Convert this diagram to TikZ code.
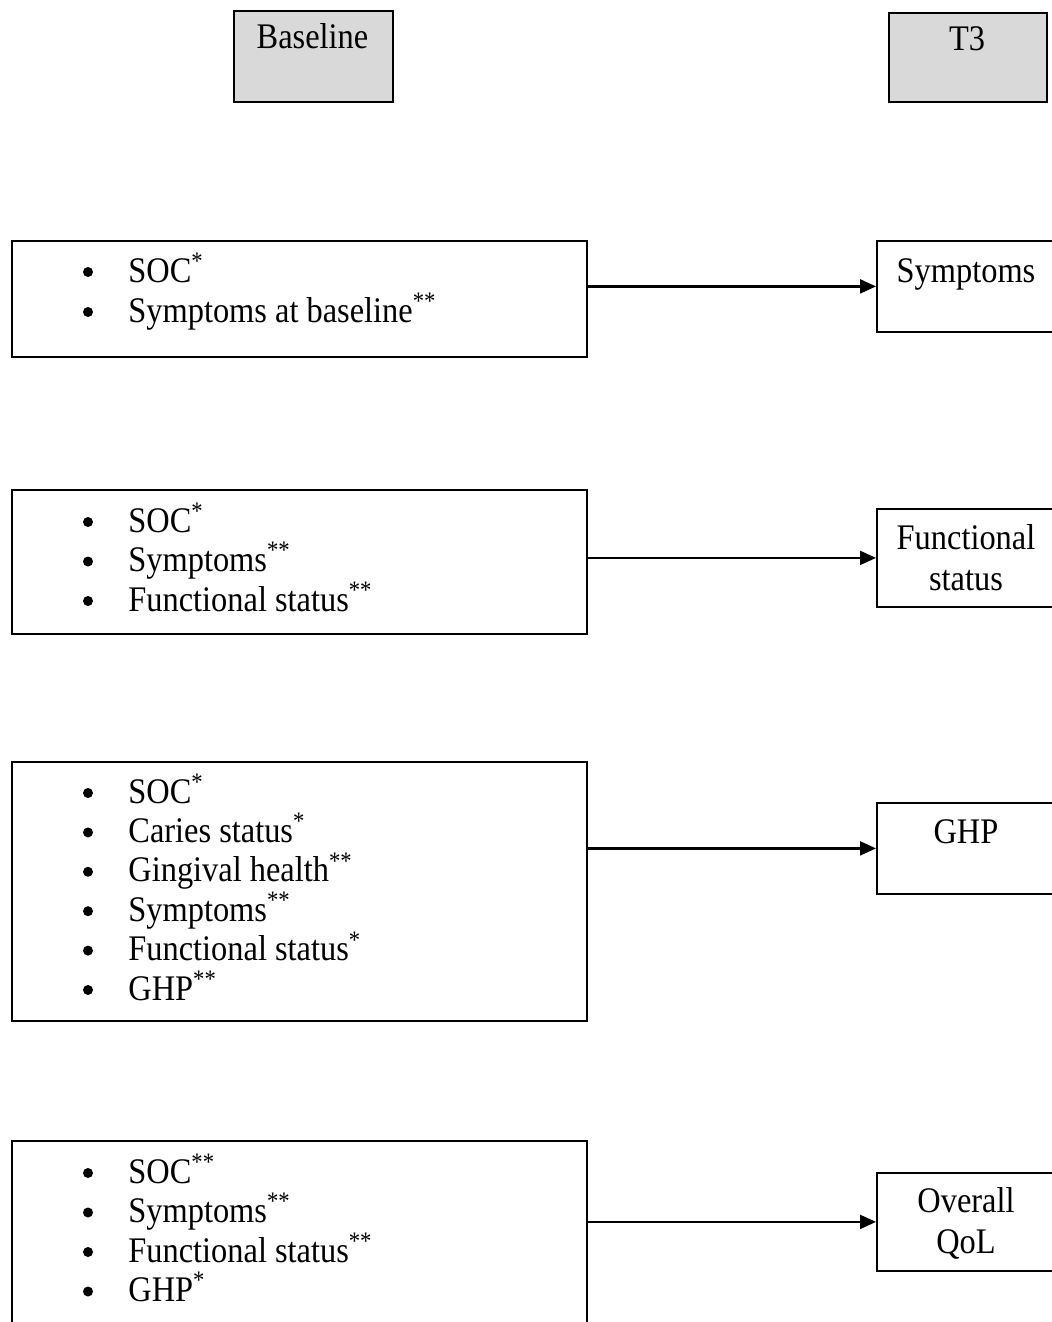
\documentclass[tikz,border=0pt]{standalone}
\usepackage{fontspec}
\setmainfont{Liberation Serif}[FakeStretch=0.9]
\usetikzlibrary{arrows.meta}
\definecolor{headfill}{HTML}{D9D9D9}
\begin{document}
\begin{tikzpicture}[x=0.5pt,y=-0.5pt,
  every node/.style={font=\fontsize{18}{20}\selectfont, inner sep=0pt},
  frame/.style={draw, line width=0.9pt, rectangle, anchor=north west, inner sep=0pt},
  head/.style={frame, fill=headfill},
  txt/.style={anchor=base},
  entry/.style={anchor=base west},
  dot/.style={circle, fill=black, minimum size=5pt, inner sep=0pt},
  link/.style={line width=1.1pt, -{Triangle[length=8pt,width=7pt]}}]
\useasboundingbox (0,0) rectangle (1052,1322);
\clip (0,0) rectangle (1052,1322);

% time-point headers
\node[head, minimum width=79.5pt, minimum height=45.5pt] (hb) at (233,10) {};
\node[txt] (hbt) at (312.5,49) {Baseline};
\node[head, minimum width=79pt, minimum height=44.5pt] (ht) at (888,12) {};
\node[txt] (htt) at (967,51) {T3};

% predictor boxes (left)
\node[frame, minimum width=287.5pt, minimum height=58pt] (L1) at (11,240) {};
\node[frame, minimum width=287.5pt, minimum height=72pt] (L2) at (11,489) {};
\node[frame, minimum width=287.5pt, minimum height=129.5pt] (L3) at (11,761) {};
\node[frame, minimum width=287.5pt, minimum height=100pt] (L4) at (11,1140) {};

% outcome boxes (right)
\node[frame, minimum width=90pt, minimum height=45.5pt] (R1) at (876,240) {};
\node[frame, minimum width=90pt, minimum height=49pt] (R2) at (876,508) {};
\node[frame, minimum width=90pt, minimum height=45.5pt] (R3) at (876,802) {};
\node[frame, minimum width=90pt, minimum height=49pt] (R4) at (876,1172) {};

\node[txt] (r1a) at (966,282) {Symptoms};
\node[txt] (r2a) at (966,549) {Functional};
\node[txt] (r2b) at (966,590) {status};
\node[txt] (r3a) at (966,843) {GHP};
\node[txt] (r4a) at (966,1212) {Overall};
\node[txt] (r4b) at (966,1253) {QoL};

% bulleted predictor lists
\foreach \t [count=\i] in {SOC\textsuperscript{*}, Symptoms at baseline\textsuperscript{**}} {
  \node[dot] (b1-\i) at (88,{282-10+(\i-1)*40}) {};
  \node[entry] (e1-\i) at (128,{282+(\i-1)*40}) {\t};
}
\foreach \t [count=\i] in {SOC\textsuperscript{*}, Symptoms\textsuperscript{**}, Functional status\textsuperscript{**}} {
  \node[dot] (b2-\i) at (88,{532-10+(\i-1)*39.5}) {};
  \node[entry] (e2-\i) at (128,{532+(\i-1)*39.5}) {\t};
}
\foreach \t [count=\i] in {SOC\textsuperscript{*}, Caries status\textsuperscript{*}, Gingival health\textsuperscript{**}, Symptoms\textsuperscript{**}, Functional status\textsuperscript{*}, GHP\textsuperscript{**}} {
  \node[dot] (b3-\i) at (88,{803-10+(\i-1)*39.4}) {};
  \node[entry] (e3-\i) at (128,{803+(\i-1)*39.4}) {\t};
}
\foreach \t [count=\i] in {SOC\textsuperscript{**}, Symptoms\textsuperscript{**}, Functional status\textsuperscript{**}, GHP\textsuperscript{*}} {
  \node[dot] (b4-\i) at (88,{1183-10+(\i-1)*39.5}) {};
  \node[entry] (e4-\i) at (128,{1183+(\i-1)*39.5}) {\t};
}

% connectors
\draw[link] (R1.west -| L1.east) -- (R1.west);
\draw[link] (R2.west -| L2.east) -- (R2.west);
\draw[link] (R3.west -| L3.east) -- (R3.west);
\draw[link] (R4.west -| L4.east) -- (R4.west);
\end{tikzpicture}
\end{document}
